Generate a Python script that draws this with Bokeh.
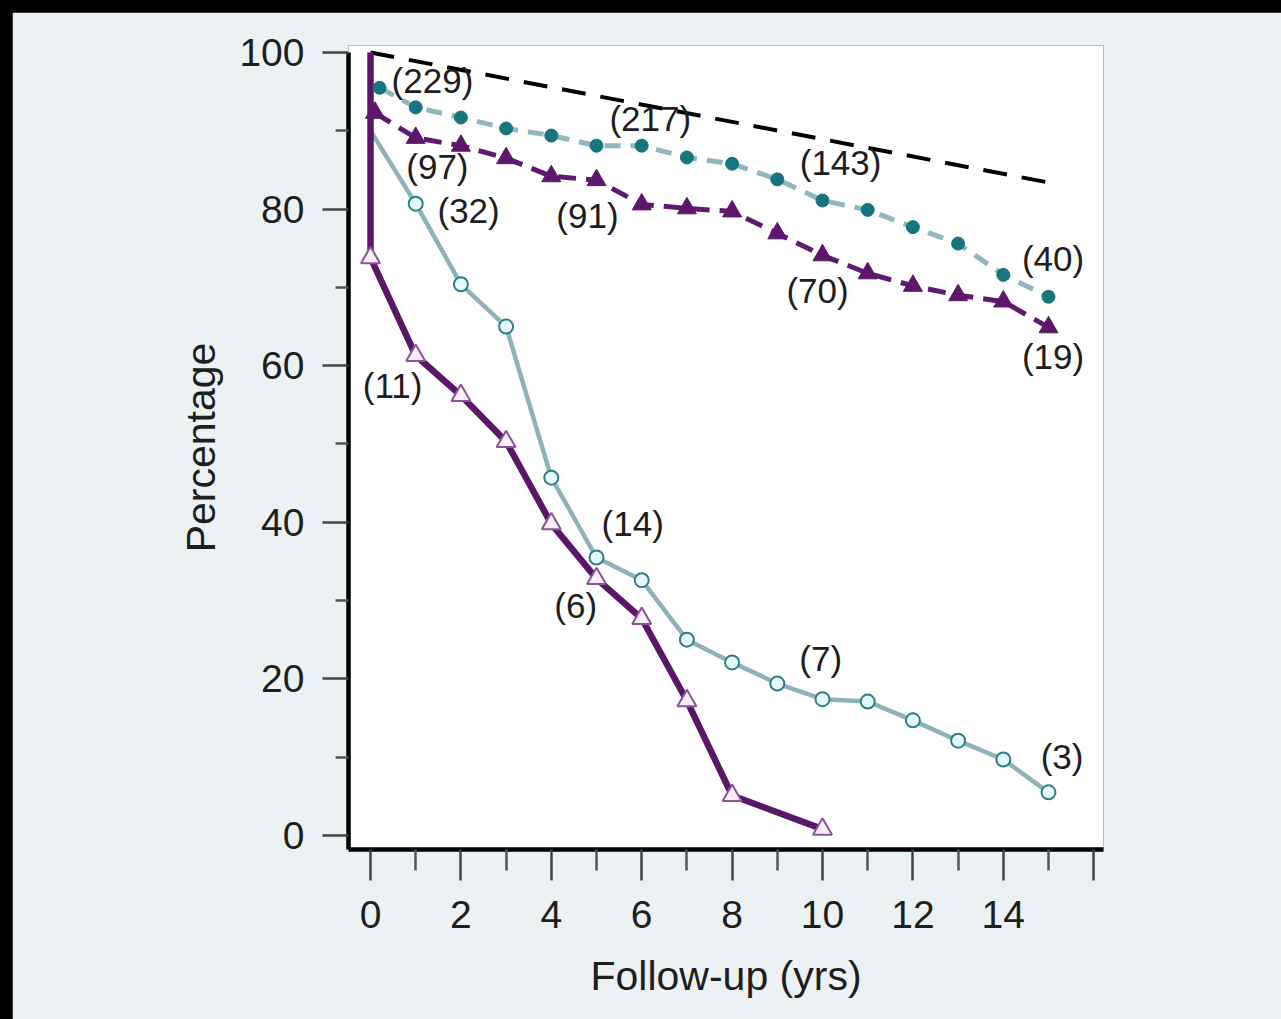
import re
from bokeh.plotting import figure
from bokeh.models import FixedTicker, Range1d
from bokeh.embed import file_html
from bokeh.resources import INLINE
from bokeh.core.properties import value

# ---------------- data ----------------
ref_x = [0, 15]
ref_y = [100, 83.4]

dot_x = [0.2, 1, 2, 3, 4, 5, 6, 7, 8, 9, 10, 11, 12, 13, 14, 15]
dot_y = [95.5, 93.0, 91.7, 90.3, 89.4, 88.1, 88.1, 86.6, 85.8, 83.8, 81.1, 79.9, 77.7, 75.6, 71.6, 68.8]

ftri_x = [0.1, 1, 2, 3, 4, 5, 6, 7, 8, 9, 10, 11, 12, 13, 14, 15]
ftri_y = [92.3, 89.1, 88.1, 86.5, 84.2, 83.7, 80.6, 80.1, 79.7, 76.9, 74.1, 71.8, 70.2, 69.0, 68.2, 64.9]

ocirc_start_x = [0, 0]
ocirc_start_y = [100, 90]
ocirc_x = [1, 2, 3, 4, 5, 6, 7, 8, 9, 10, 11, 12, 13, 14, 15]
ocirc_y = [80.7, 70.4, 65.0, 45.7, 35.5, 32.6, 25.0, 22.1, 19.4, 17.4, 17.1, 14.7, 12.1, 9.7, 5.5]

otri_start_x = [0]
otri_start_y = [100]
otri_x = [0, 1, 2, 3, 4, 5, 6, 7, 8, 10]
otri_y = [73.8, 61.3, 56.2, 50.3, 39.8, 32.8, 27.7, 17.2, 5.1, 0.8]

label_text = ["(229)", "(97)", "(32)", "(217)", "(91)", "(143)", "(70)",
              "(40)", "(19)", "(11)", "(14)", "(6)", "(7)", "(3)"]
label_x = [1.37, 1.48, 2.17, 6.19, 4.8, 10.4, 9.89, 15.1, 15.1, 0.49, 5.8, 4.54, 9.96, 15.3]
label_y = [96.4, 85.4, 79.8, 91.6, 79.2, 86.0, 69.6, 73.7, 61.2, 57.5, 39.8, 29.4, 22.6, 10.1]

x_ticks = [0, 2, 4, 6, 8, 10, 12, 14, 16]
x_minor = [1, 3, 5, 7, 9, 11, 13, 15]
y_ticks = [0, 20, 40, 60, 80, 100]
y_minor = [10, 30, 50, 70, 90]

FONT = "Liberation Sans"
PANEL = "#ecf1f4"

p = figure(width=1269, height=1007, output_backend="svg", toolbar_location=None,
           x_range=Range1d(-0.487, 16.217), y_range=Range1d(-1.8, 100.9),
           min_border_left=336, min_border_right=178, min_border_top=33, min_border_bottom=170)
p.margin = (12, 0, 0, 12)
p.background_fill_color = "white"
p.border_fill_color = PANEL
p.outline_line_color = None
p.xgrid.visible = False
p.ygrid.visible = False

# reference (dashed black)
p.line(ref_x, ref_y, line_color="black", line_width=4, line_dash="24 15")

# teal dotted series
p.line(dot_x, dot_y, line_color="#8fb7bc", line_width=5, line_dash="16 10")
# purple dashed series
p.line(ftri_x, ftri_y, line_color="#5e1a6e", line_width=5, line_dash="18 10")

# open circle solid series
p.line(ocirc_start_x + ocirc_x, ocirc_start_y + ocirc_y, line_color="#8db3b8", line_width=4.5)
# open triangle solid series
p.line(otri_start_x + otri_x, otri_start_y + otri_y, line_color="#5a1768", line_width=6.5)

# markers
p.scatter(dot_x, dot_y, marker="circle", size=13, fill_color="#17767d", line_color="#17767d")
p.scatter(ftri_x, ftri_y, marker="triangle", size=19, fill_color="#5c176b", line_color="#5c176b")
p.scatter(otri_x, otri_y, marker="triangle", size=19, fill_color="#fbeefb",
          line_color="#8a5598", line_width=2)
p.scatter(ocirc_x, ocirc_y, marker="circle", size=14, fill_color="#e4fafc",
          line_color="#2f7e87", line_width=2)

# count labels
p.text(label_x, label_y, text=label_text, text_font=value(FONT),
       text_font_size=value("35px"), text_color="#1e1e1e",
       text_align="center", text_baseline="middle")

# axes
for ax in (p.xaxis[0], p.yaxis[0]):
    ax.axis_line_width = 4.5
    ax.axis_line_color = "black"
    ax.major_tick_line_color = "#444444"
    ax.minor_tick_line_color = "#555555"
    ax.major_tick_line_width = 2.5
    ax.minor_tick_line_width = 2.5
    ax.major_tick_in = 0
    ax.minor_tick_in = 0
    ax.major_label_text_font = FONT
    ax.major_label_text_font_size = "39px"
    ax.major_label_text_color = "#1e1e1e"
    ax.axis_label_text_font = FONT
    ax.axis_label_text_font_size = "41px"
    ax.axis_label_text_font_style = "normal"
    ax.axis_label_text_color = "#1e1e1e"

p.xaxis.ticker = FixedTicker(ticks=x_ticks, minor_ticks=x_minor)
p.xaxis.major_label_overrides = {16: ""}
p.xaxis.major_tick_out = 31
p.xaxis.minor_tick_out = 21
p.xaxis.major_label_standoff = 20
p.xaxis.axis_label = "Follow-up (yrs)"
p.xaxis.axis_label_standoff = 22

p.yaxis.ticker = FixedTicker(ticks=y_ticks, minor_ticks=y_minor)
p.yaxis.bounds = (-2, 100)
p.yaxis.major_tick_out = 26
p.yaxis.minor_tick_out = 13
p.yaxis.major_label_standoff = 18
p.yaxis.axis_label = "Percentage"
p.yaxis.axis_label_standoff = 12

html = file_html(p, INLINE)
html = html.replace("</head>",
                    "<style>html, body { background-color: #000000; margin: 0; padding: 0; }</style></head>", 1)
html = re.sub(r"<body([^>]*)>", r'<body\1 style="background-color:#000000;margin:0;padding:0;">', html, count=1)
open("out.html", "w").write(html)
